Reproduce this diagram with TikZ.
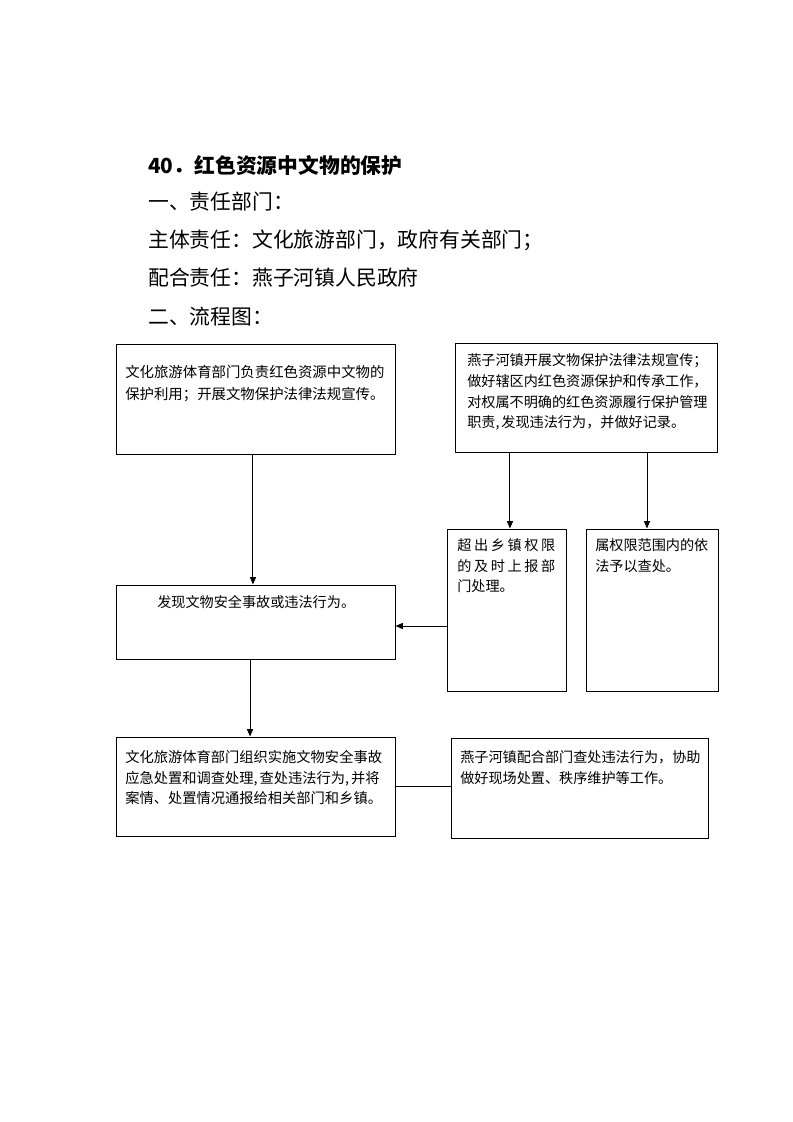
\documentclass[tikz,border=0pt]{standalone}
\usepackage{fontspec}
\newfontfamily\cjk{Noto Sans CJK SC}
\usetikzlibrary{arrows.meta,fit}
\begin{document}
\begin{tikzpicture}[x=0.75pt,y=-0.75pt,
  box/.style={draw=black,line width=0.75pt,inner sep=0pt},
  head/.style={anchor=west,inner sep=0pt,font=\cjk\fontsize{15.6}{18}\selectfont},
  txt/.style={anchor=north west,inner sep=0pt,align=left,font=\cjk\fontsize{10.6}{15.5}\selectfont},
  conn/.style={line width=0.75pt,draw=black},
  arr/.style={conn,-{Triangle[length=5.5pt,width=4.5pt]}}]
\useasboundingbox (0,0) rectangle (793,1122);
% headings
\node[head,font=\cjk\bfseries\fontsize{15.6}{18}\selectfont] (h0) at (148,165) {40．红色资源中文物的保护};
\node[head] (h1) at (148,202) {一、责任部门：};
\node[head] (h2) at (148,240) {主体责任：文化旅游部门，政府有关部门；};
\node[head] (h3) at (148,278) {配合责任：燕子河镇人民政府};
\node[head] (h4) at (148,317) {二、流程图：};
% boxes
\coordinate (b1a) at (116,344); \coordinate (b1b) at (395,454);
\node[box,fit=(b1a)(b1b)] (b1) {};
\coordinate (b2a) at (455,343); \coordinate (b2b) at (717,452);
\node[box,fit=(b2a)(b2b)] (b2) {};
\coordinate (b3a) at (447,529); \coordinate (b3b) at (566,691);
\node[box,fit=(b3a)(b3b)] (b3) {};
\coordinate (b4a) at (586,529); \coordinate (b4b) at (718,691);
\node[box,fit=(b4a)(b4b)] (b4) {};
\coordinate (b5a) at (116,585); \coordinate (b5b) at (395,659);
\node[box,fit=(b5a)(b5b)] (b5) {};
\coordinate (b6a) at (116,737); \coordinate (b6b) at (395,836);
\node[box,fit=(b6a)(b6b)] (b6) {};
\coordinate (b7a) at (451,738); \coordinate (b7b) at (708,838);
\node[box,fit=(b7a)(b7b)] (b7) {};
% texts
\node[txt,font=\cjk\fontsize{10.8}{15.8}\selectfont] (t1) at (125,365.5) {文化旅游体育部门负责红色资源中文物的\\保护利用；开展文物保护法律法规宣传。};
\node[txt] (t2) at (467,353.5) {燕子河镇开展文物保护法律法规宣传；\\做好辖区内红色资源保护和传承工作，\\对权属不明确的红色资源履行保护管理\\职责,\hspace{1.5pt}发现违法行为，并做好记录。};
\node[txt] (t3) at (457,538.5) {\hbox to 73.5pt{超\hfill 出\hfill 乡\hfill 镇\hfill 权\hfill 限}\\\hbox to 73.5pt{的\hfill 及\hfill 时\hfill 上\hfill 报\hfill 部}\\门处理。};
\node[txt] (t4) at (595,538.5) {属权限范围内的依\\法予以查处。};
\node[txt] (t5) at (157,595.5) {发现文物安全事故或违法行为。};
\node[txt,font=\cjk\fontsize{10.7}{15.4}\selectfont] (t6) at (125,750.5) {文化旅游体育部门组织实施文物安全事故\\应急处置和调查处理,\hspace{1.5pt}查处违法行为,\hspace{1.5pt}并将\\案情、处置情况通报给相关部门和乡镇。};
\node[txt] (t7) at (460,750.5) {燕子河镇配合部门查处违法行为，协助\\做好现场处置、秩序维护等工作。};
% connectors
\draw[arr] ([xshift=-1.9pt]b1.south) -- ([xshift=-1.9pt]b5.north);
\draw[arr] ([xshift=2.6pt]b3.north |- b2.south) -- ([xshift=2.6pt]b3.north);
\draw[arr] ([xshift=-3.75pt]b4.north |- b2.south) -- ([xshift=-3.75pt]b4.north);
\draw[arr] ([yshift=-12pt]b3.west) -- ([yshift=-12pt]b3.west -| b5.east);
\draw[arr] ([xshift=-4.1pt]b5.south) -- ([xshift=-4.1pt]b6.north);
\draw[conn] (b6.east) -- (b6.east -| b7.west);
\end{tikzpicture}
\end{document}
